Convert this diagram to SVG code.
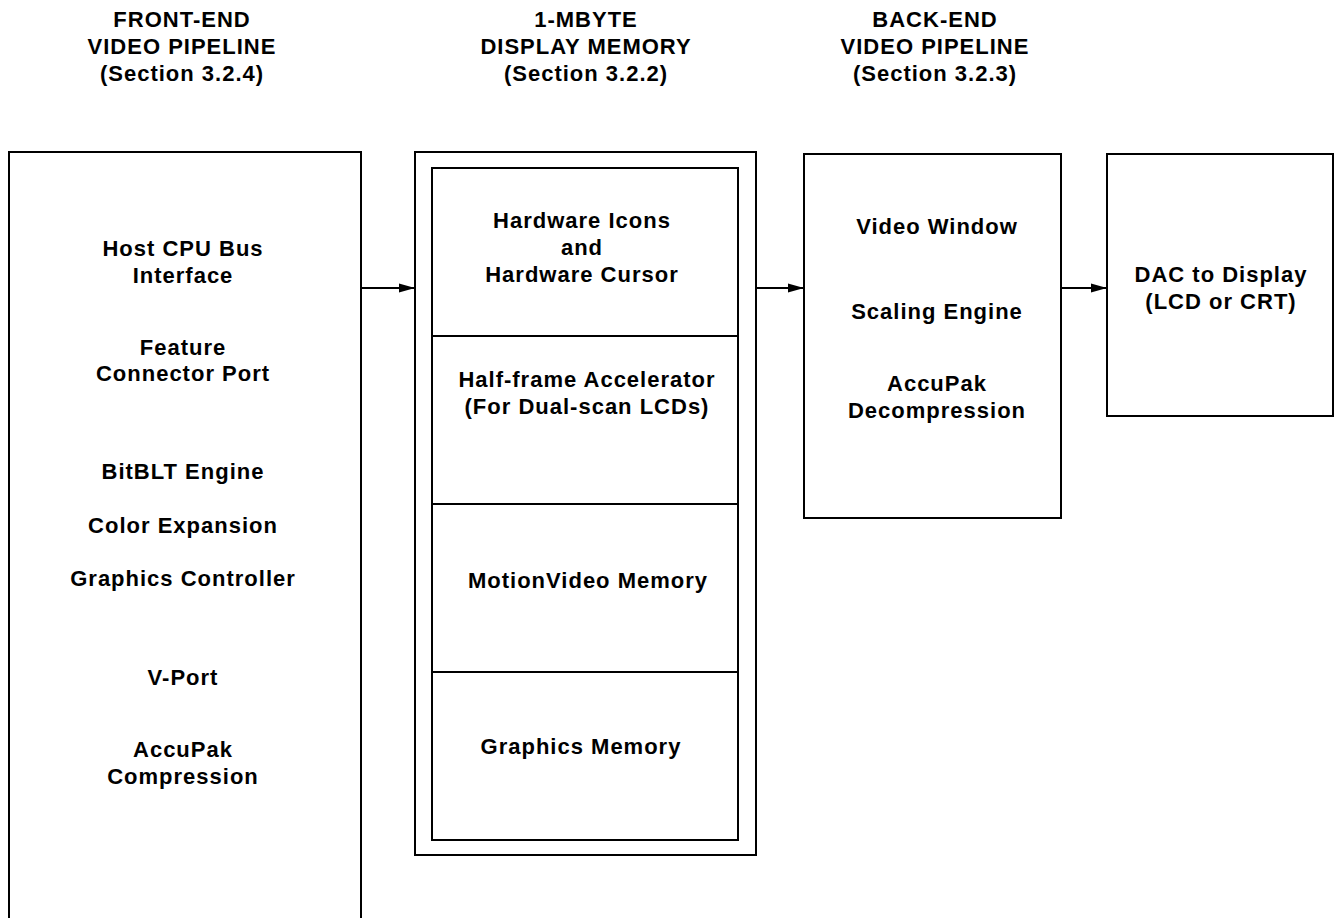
<svg xmlns="http://www.w3.org/2000/svg" width="1340" height="918" viewBox="0 0 1340 918">
<style>
text{font-family:"Liberation Sans",Arial,sans-serif;font-weight:bold;font-size:22px;letter-spacing:1px;text-anchor:middle;fill:#000}
.box{fill:none;stroke:#000;stroke-width:2}
.conn{stroke:#000;stroke-width:2;fill:none}
</style>
<defs>
<marker id="arr" markerWidth="16" markerHeight="10" refX="16" refY="5" orient="auto" markerUnits="userSpaceOnUse">
<path d="M0,0.5 L16,5 L0,9.5 Z" fill="#000"/>
</marker>
</defs>
<rect width="1340" height="918" fill="#fff"/>
<g id="titles">
<text x="182" y="27">FRONT-END</text>
<text x="182" y="54">VIDEO PIPELINE</text>
<text x="182" y="81">(Section 3.2.4)</text>
<text x="586" y="27">1-MBYTE</text>
<text x="586" y="54">DISPLAY MEMORY</text>
<text x="586" y="81">(Section 3.2.2)</text>
<text x="935" y="27">BACK-END</text>
<text x="935" y="54">VIDEO PIPELINE</text>
<text x="935" y="81">(Section 3.2.3)</text>
</g>
<g id="frontend">
<rect class="box" x="9" y="152" width="352" height="780"/>
<text x="183" y="256">Host CPU Bus</text>
<text x="183" y="283">Interface</text>
<text x="183" y="355">Feature</text>
<text x="183" y="381">Connector Port</text>
<text x="183" y="479">BitBLT Engine</text>
<text x="183" y="533">Color Expansion</text>
<text x="183" y="586">Graphics Controller</text>
<text x="183" y="685">V-Port</text>
<text x="183" y="757">AccuPak</text>
<text x="183" y="784">Compression</text>
</g>
<g id="memory">
<rect class="box" x="415" y="152" width="341" height="703"/>
<rect class="box" x="432" y="168" width="306" height="672"/>
<line class="box" x1="432" y1="336" x2="738" y2="336"/>
<line class="box" x1="432" y1="504" x2="738" y2="504"/>
<line class="box" x1="432" y1="672" x2="738" y2="672"/>
<text x="582" y="228">Hardware Icons</text>
<text x="582" y="255">and</text>
<text x="582" y="282">Hardware Cursor</text>
<text x="587" y="387">Half-frame Accelerator</text>
<text x="587" y="414">(For Dual-scan LCDs)</text>
<text x="588" y="588">MotionVideo Memory</text>
<text x="581" y="754">Graphics Memory</text>
</g>
<g id="backend">
<rect class="box" x="804" y="154" width="257" height="364"/>
<text x="937" y="234">Video Window</text>
<text x="937" y="319">Scaling Engine</text>
<text x="937" y="391">AccuPak</text>
<text x="937" y="418">Decompression</text>
</g>
<g id="dac">
<rect class="box" x="1107" y="154" width="226" height="262"/>
<text x="1221" y="282">DAC to Display</text>
<text x="1221" y="309">(LCD or CRT)</text>
</g>
<g id="connectors">
<line class="conn" x1="361" y1="288" x2="415" y2="288" marker-end="url(#arr)"/>
<line class="conn" x1="756" y1="288" x2="804" y2="288" marker-end="url(#arr)"/>
<line class="conn" x1="1061" y1="288" x2="1107" y2="288" marker-end="url(#arr)"/>
</g>
</svg>
